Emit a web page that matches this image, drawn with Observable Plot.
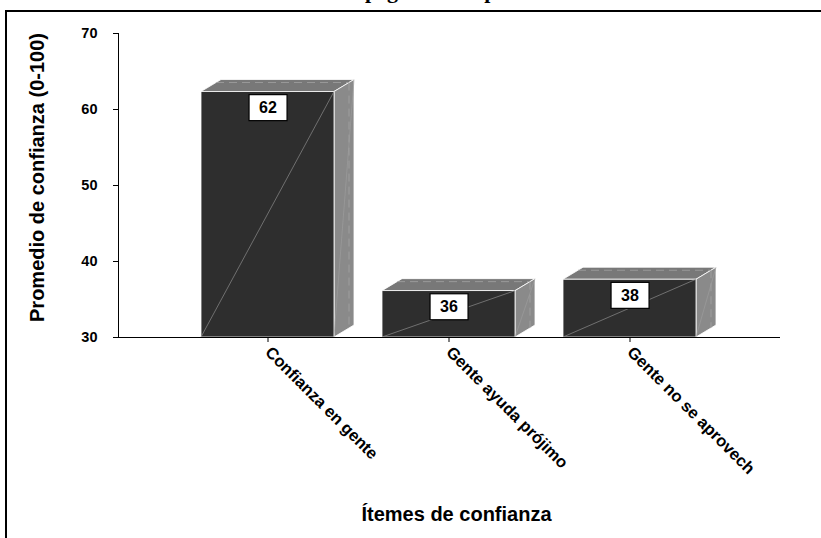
<!DOCTYPE html>
<html><head><meta charset="utf-8">
<script src="https://cdn.jsdelivr.net/npm/d3@7"></script>
<script src="https://cdn.jsdelivr.net/npm/@observablehq/plot@0.6"></script>
<style>
html,body{margin:0;padding:0;background:#fff}
body{width:821px;height:538px;overflow:hidden;position:relative;font-family:Arial,"Liberation Sans",sans-serif}
#chart{position:absolute;left:0;top:0}
#frame{position:absolute;left:5px;top:10px;width:900px;height:700px;border-left:2.5px solid #000;border-top:2.5px solid #000;pointer-events:none}
#title{position:absolute;top:-20px;white-space:nowrap;font-family:"Liberation Serif","Times New Roman",serif;font-weight:bold;font-size:22px;line-height:22px}
</style></head>
<body>
<div id="chart"></div>
<div id="title"></div>
<div id="frame"></div>
<script>
// ---- data ----
const categories = ["Confianza en gente", "Gente ayuda prójimo", "Gente no se aprovech"];
const values = [62.3, 36.1, 37.6];
const valueLabels = ["62", "36", "38"];
const yTicks = [30, 40, 50, 60, 70];
const titleText = "Nivel de apego a otras personas";
const yLabel = "Promedio de confianza (0-100)";
const xLabel = "Ítemes de confianza";

const data = categories.map((c, i) => ({cat: c, value: values[i], label: valueLabels[i]}));

// title (cut off at the top like the reference)
const titleEl = document.getElementById("title");
titleEl.textContent = titleText;
const ctx = document.createElement("canvas").getContext("2d");
ctx.font = 'bold 22px "Liberation Serif", "Times New Roman", serif';
const prefixW = ctx.measureText("Nivel de a").width;
titleEl.style.left = (365 - prefixW) + "px";

const plot = Plot.plot({
  width: 821,
  height: 538,
  marginLeft: 118,
  marginRight: 41,
  marginTop: 33,
  marginBottom: 201,
  style: {background: "transparent", fontFamily: "Arial, 'Liberation Sans', sans-serif", fontWeight: "bold", fontSize: "13px", color: "#000", overflow: "visible"},
  x: {type: "band", domain: categories, range: [176.25, 720.75], paddingInner: 0.267, paddingOuter: 0.1335, align: 0.5,
      tickSize: 5, tickRotate: 45, tickPadding: 7, label: null},
  y: {domain: [30, 70], ticks: yTicks, tickSize: 5, tickPadding: 16, label: null, line: true},
  marks: [
    Plot.barY(data, {x: "cat", y1: 30, y2: "value", fill: "#2e2e2e", stroke: "#ffffff", strokeWidth: 0.8, className: "front3d"}),
    Plot.ruleY([30], {stroke: "#000", strokeWidth: 1.2}),
    Plot.text(data, {x: "cat", y: "value", text: "label", dy: 16, fontSize: 16, fontWeight: "bold", fill: "#000", className: "vlabel"}),
    Plot.text([yLabel], {frameAnchor: "left", textAnchor: "middle", dx: -81, dy: -8, rotate: -90, fontSize: 20, fontWeight: "bold", fill: "#000"}),
    Plot.text([xLabel], {frameAnchor: "bottom", textAnchor: "middle", dx: 7, dy: 183, fontSize: 20, fontWeight: "bold", fill: "#000"})
  ]
});
document.getElementById("chart").appendChild(plot);

const NS = "http://www.w3.org/2000/svg";
function el(name, attrs) {
  const e = document.createElementNS(NS, name);
  for (const k in attrs) e.setAttribute(k, attrs[k]);
  return e;
}
// 3D faces built from the rendered bar rects
let rects = plot.querySelectorAll(".front3d rect");
if (!rects.length) rects = plot.querySelectorAll('g[aria-label="bar"] rect');
const DX = 20, DY = -12;
rects.forEach(r => {
  const x0 = +r.getAttribute("x"), w = +r.getAttribute("width");
  const yT = +r.getAttribute("y"), h = +r.getAttribute("height");
  const x1 = x0 + w, yB = yT + h;
  const g = r.parentNode;
  const pts = a => a.map(p => p.join(",")).join(" ");
  g.insertBefore(el("polygon", {points: pts([[x0, yT], [x0 + DX, yT + DY], [x1 + DX, yT + DY], [x1, yT]]), fill: "#787878", stroke: "#fff", "stroke-width": 0.8}), r);
  g.insertBefore(el("polygon", {points: pts([[x1, yT], [x1 + DX, yT + DY], [x1 + DX, yB + DY], [x1, yB]]), fill: "#8a8a8a", stroke: "#fff", "stroke-width": 0.8}), r);
  g.insertBefore(el("line", {x1: x0 + DX * 0.75, y1: yT + DY * 0.75, x2: x1 + DX * 0.75, y2: yT + DY * 0.75, stroke: "#a8a8a8", "stroke-width": 0.7, "stroke-dasharray": "8,5"}), r);
  g.insertBefore(el("line", {x1: x1 + DX * 0.75, y1: yT + DY * 0.75, x2: x1 + DX * 0.75, y2: yB + DY * 0.75, stroke: "#a8a8a8", "stroke-width": 0.7, "stroke-dasharray": "8,5"}), r);
  g.appendChild(el("line", {x1: x0, y1: yB, x2: x1, y2: yT, stroke: "#8c8c8c", "stroke-width": 0.7}));
  g.appendChild(el("line", {x1: x1, y1: yB, x2: x1 + DX, y2: yT + DY, stroke: "#a0a0a0", "stroke-width": 0.6}));
});
// value label boxes
plot.querySelectorAll(".vlabel text").forEach(t => {
  const bb = t.getBBox();
  const cx = bb.x + bb.width / 2, cy = bb.y + bb.height / 2;
  const box = el("rect", {x: cx - 19, y: cy - 13, width: 38, height: 26, fill: "#fff", stroke: "#000", "stroke-width": 1.2});
  const tr = t.getAttribute("transform");
  if (tr) box.setAttribute("transform", tr);
  t.parentNode.insertBefore(box, t);
});
// axis tick label sizes
plot.querySelectorAll('g[aria-label^="x-axis"] text').forEach(t => { t.style.fontSize = "16.5px"; t.style.fontWeight = "bold"; });
plot.querySelectorAll('g[aria-label^="y-axis"] text').forEach(t => { t.style.fontSize = "14.5px"; t.style.fontWeight = "bold"; });
</script>
</body></html>
